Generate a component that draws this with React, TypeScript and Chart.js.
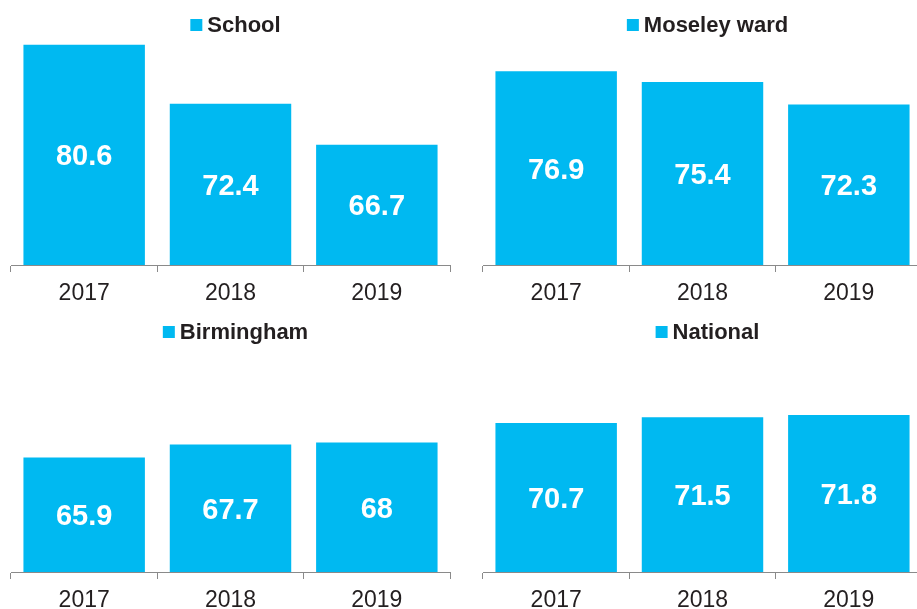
import React, { useEffect, useRef } from "react";
import { Chart, registerables } from "chart.js";

Chart.register(...registerables);

const years = ["2017", "2018", "2019"];
const schoolValues = [80.6, 72.4, 66.7];
const moseleyValues = [76.9, 75.4, 72.3];
const birminghamValues = [65.9, 67.7, 68];
const nationalValues = [70.7, 71.5, 71.8];

const Y_MIN = 50;
const Y_MAX = 85;

const BAR_COLOR = "#00B9F1";
const TEXT_COLOR = "#231F20";
const AXIS_COLOR = "#8A8A8A";
const FONT = "'Liberation Sans', Arial, sans-serif";

const panels = [
  { name: "School", values: schoolValues, left: 0, top: 0 },
  { name: "Moseley ward", values: moseleyValues, left: 472, top: 0 },
  { name: "Birmingham", values: birminghamValues, left: 0, top: 307 },
  { name: "National", values: nationalValues, left: 472, top: 307 },
];

const CANVAS_W = 460;
const CANVAS_H = 307;

const overlayPlugin = {
  id: "overlayLabels",
  afterDraw(chart: any) {
    const ctx: CanvasRenderingContext2D = chart.ctx;
    const ds = chart.data.datasets[0];
    const data = ds.data as number[];
    const name = ds.label as string;
    const area = chart.chartArea;
    const xs = chart.scales.x;
    const ys = chart.scales.y;

    ctx.save();
    ctx.globalAlpha = 1;
    ctx.fillStyle = "#FFFFFF";
    ctx.font = `bold 29px ${FONT}`;
    ctx.textAlign = "center";
    ctx.textBaseline = "alphabetic";
    for (let i = 0; i < data.length; i++) {
      const x = xs.getPixelForValue(i);
      const top = ys.getPixelForValue(data[i]);
      const base = area.bottom;
      const cy = (top + base) / 2;
      ctx.fillText(String(data[i]), x, cy + (0.716 * 29) / 2);
    }

    ctx.font = `bold 22px ${FONT}`;
    const tw = ctx.measureText(name).width;
    const total = 12 + 5 + tw;
    const center = (area.left + area.right) / 2 + 5;
    const sx = center - total / 2;
    ctx.fillStyle = BAR_COLOR;
    ctx.fillRect(sx, 19, 12, 12);
    ctx.fillStyle = TEXT_COLOR;
    ctx.textAlign = "left";
    ctx.fillText(name, sx + 17, 32);
    ctx.restore();
  },
};

function Panel({ name, values, left, top }: { name: string; values: number[]; left: number; top: number }) {
  const ref = useRef<HTMLCanvasElement | null>(null);
  useEffect(() => {
    if (!ref.current) return;
    const chart = new Chart(ref.current, {
      type: "bar",
      data: {
        labels: years,
        datasets: [
          {
            label: name,
            data: values,
            backgroundColor: BAR_COLOR,
            borderWidth: 0,
            barPercentage: 0.83,
            categoryPercentage: 1,
          },
        ],
      },
      options: {
        responsive: false,
        animation: false,
        events: [],
        layout: { padding: { top: 13, left: 11, right: 10, bottom: 0 } },
        plugins: {
          legend: { display: false },
          tooltip: { enabled: false },
        },
        scales: {
          x: {
            offset: true,
            afterFit: (scale: any) => {
              scale.height = 42;
            },
            grid: {
              offset: true,
              drawOnChartArea: false,
              drawTicks: true,
              tickLength: 7,
              color: AXIS_COLOR,
              lineWidth: 1,
            },
            border: { display: true, color: AXIS_COLOR, width: 1 },
            ticks: {
              color: TEXT_COLOR,
              padding: 8,
              maxRotation: 0,
              font: { family: FONT, size: 23 },
            },
          },
          y: {
            display: false,
            min: Y_MIN,
            max: Y_MAX,
          },
        },
      },
      plugins: [overlayPlugin],
    } as any);
    return () => chart.destroy();
  }, [name, values]);
  return (
    <canvas
      ref={ref}
      width={CANVAS_W}
      height={CANVAS_H}
      style={{ position: "absolute", left, top, width: CANVAS_W, height: CANVAS_H }}
    />
  );
}

export default function App() {
  return (
    <div
      style={{
        position: "fixed",
        left: 0,
        top: 0,
        width: 917,
        height: 609,
        overflow: "hidden",
        background: "#FFFFFF",
      }}
    >
      {panels.map((p) => (
        <Panel key={p.name} name={p.name} values={p.values} left={p.left} top={p.top} />
      ))}
    </div>
  );
}
